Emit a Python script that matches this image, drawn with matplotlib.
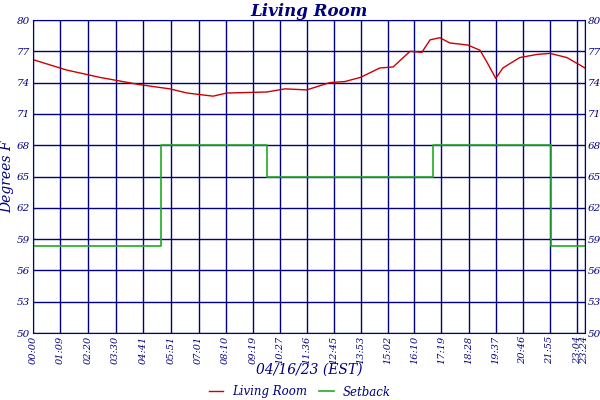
import matplotlib
matplotlib.use("Agg")
import matplotlib.pyplot as plt

tick_min = [0,69,140,210,281,351,421,490,559,627,696,765,833,902,970,1039,1108,1177,1246,1315,1384,1404]
tick_lbl = ["00:00","01:09","02:20","03:30","04:41","05:51","07:01","08:10","09:19","10:27","11:36","12:45",
            "13:53","15:02","16:10","17:19","18:28","19:37","20:46","21:55","23:04","23:24"]

temp_t = [0,86,170,272,348,392,458,493,595,641,696,755,793,833,882,916,959,989,1010,1035,1060,1106,1137,1154,1177,1195,1238,1282,1315,1358,1404]
temp_v = [76.2,75.2,74.5,73.8,73.4,73.0,72.7,73.0,73.1,73.4,73.3,74.0,74.1,74.5,75.4,75.5,77.0,76.9,78.1,78.3,77.8,77.6,77.1,76.0,74.4,75.4,76.4,76.7,76.8,76.4,75.4]

set_t = [0,325,595,1017,1318,1404]
set_v = [58.3,68,65,68,58.3,58.3]

navy = "#000080"
font = "DejaVu Serif"
fig = plt.figure(figsize=(6,4), dpi=100)
ax = fig.add_axes([0.055,0.1675,0.92,0.7825])
ax.plot(temp_t, temp_v, color="#cc0000", lw=1, label="Living Room")
ax.step(set_t, set_v, where="post", color="#22aa22", lw=1.2, label="Setback")
ax.set_xlim(0,1404); ax.set_ylim(50,80)
yt = list(range(50,81,3))
ax.set_yticks(yt)
ax.set_xticks(tick_min)
ax.set_xticklabels(tick_lbl, rotation=90, fontsize=7, style="italic", color=navy, family=font)
ax.set_yticklabels([str(v) for v in yt], fontsize=7.5, style="italic", color=navy, family=font)
ax.tick_params(length=0, pad=2, right=True, labelright=True)
ax.grid(True, color=navy, lw=1)
for s in ax.spines.values():
    s.set_color(navy)
ax.set_title("Living Room", fontsize=12, style="italic", weight="bold", color=navy, family=font, pad=3)
ax.set_ylabel("Degrees F", fontsize=10, style="italic", color=navy, family=font, labelpad=2)
fig.text(0.515, 0.075, "04/16/23 (EST)", ha="center", va="center", fontsize=10, style="italic", color=navy, family=font)
leg = fig.legend(loc="center", bbox_to_anchor=(0.5,0.02), ncol=2, frameon=False,
                 prop={"family":font,"style":"italic","size":8.5}, handlelength=1.2, columnspacing=1)
for t in leg.get_texts():
    t.set_color(navy)
fig.savefig("out.png", dpi=100)
